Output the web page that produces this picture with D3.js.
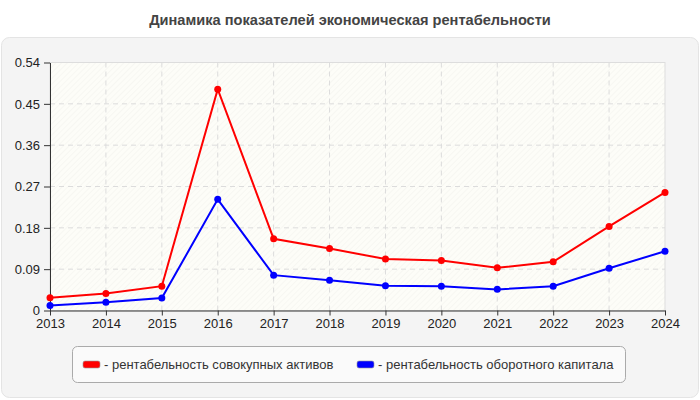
<!DOCTYPE html>
<html>
<head>
<meta charset="utf-8">
<script src="https://cdn.jsdelivr.net/npm/d3@7"></script>
<style>
body { margin: 0; background: #fff; }
svg { display: block; font-family: "Liberation Sans", Arial, sans-serif; }
</style>
</head>
<body>
<div id="chart-area"></div>
<script>
var years = [2013, 2014, 2015, 2016, 2017, 2018, 2019, 2020, 2021, 2022, 2023, 2024];
var assetsReturn = [0.028, 0.037, 0.053, 0.482, 0.156, 0.135, 0.112, 0.109, 0.093, 0.106, 0.183, 0.257];
var capitalReturn = [0.011, 0.018, 0.027, 0.242, 0.077, 0.066, 0.054, 0.053, 0.046, 0.053, 0.092, 0.129];
var yTicks = [0, 0.09, 0.18, 0.27, 0.36, 0.45, 0.54];
var seriesNames = ["рентабельность совокупных активов", "рентабельность оборотного капитала"];
var seriesColors = ["#ff0000", "#0000ff"];

var margin = {top: 62.5, left: 50, right: 35, bottom: 89.5};
var width = 700 - margin.left - margin.right;
var height = 400 - margin.top - margin.bottom;

var svg = d3.select("#chart-area").append("svg")
	.attr("width", 700)
	.attr("height", 400);

var defs = svg.append("defs");
var pat = defs.append("pattern")
	.attr("id", "hatch")
	.attr("patternUnits", "userSpaceOnUse")
	.attr("width", 4)
	.attr("height", 4)
	.attr("patternTransform", "rotate(45)");
pat.append("rect").attr("width", 4).attr("height", 4).attr("fill", "#fdfdf8");
pat.append("line").attr("x1", 0).attr("y1", 0).attr("x2", 0).attr("y2", 4)
	.attr("stroke", "#f3f3ef").attr("stroke-width", 1.2);

// title
svg.append("text")
	.attr("x", 350)
	.attr("y", 25)
	.attr("text-anchor", "middle")
	.attr("font-size", "14.6px")
	.attr("font-weight", "bold")
	.attr("fill", "#444")
	.text("Динамика показателей экономическая рентабельности");

// panel
svg.append("rect")
	.attr("x", 1.5).attr("y", 37.5)
	.attr("width", 697).attr("height", 360)
	.attr("rx", 8)
	.attr("fill", "#f4f4f4")
	.attr("stroke", "#e4e4e4");

var g = svg.append("g")
	.attr("transform", "translate(" + margin.left + ", " + margin.top + ")");

var x = d3.scaleLinear()
	.domain([years[0], years[years.length - 1]])
	.range([0, width]);

var y = d3.scaleLinear()
	.domain([0, 0.54])
	.range([height, 0]);

g.append("rect")
	.attr("width", width)
	.attr("height", height)
	.attr("fill", "url(#hatch)")
	.attr("stroke", "#dddddd");

// grid
g.selectAll(".hgrid").data(yTicks.slice(1, -1)).enter().append("line")
	.attr("x1", 0).attr("x2", width)
	.attr("y1", (d) => y(d)).attr("y2", (d) => y(d))
	.attr("stroke", "#dcdcdc")
	.attr("stroke-dasharray", "5,4");

g.selectAll(".vgrid").data(years.slice(1, -1)).enter().append("line")
	.attr("y1", 0).attr("y2", height)
	.attr("x1", (d) => x(d)).attr("x2", (d) => x(d))
	.attr("stroke", "#dcdcdc")
	.attr("stroke-dasharray", "5,4");

// axes
var bottomAxis = d3.axisBottom(x)
	.tickValues(years)
	.tickFormat(d3.format("d"))
	.tickSizeInner(5)
	.tickSizeOuter(0);
var xg = g.append("g")
	.attr("class", "bottom axis")
	.attr("transform", "translate(0, " + height + ")")
	.call(bottomAxis);
xg.selectAll("text").attr("font-size", "13px").attr("fill", "#222").attr("y", 8).attr("font-family", "'Liberation Sans', Arial, sans-serif");
xg.selectAll("line, path").attr("stroke", "#333");

var leftAxis = d3.axisLeft(y)
	.tickValues(yTicks)
	.tickFormat((d) => d === 0 ? "0" : d3.format(".2f")(d))
	.tickSizeInner(6)
	.tickSizeOuter(0);
var yg = g.append("g")
	.attr("class", "left axis")
	.call(leftAxis);
yg.selectAll("text").attr("font-size", "13px").attr("fill", "#222").attr("x", -10).attr("font-family", "'Liberation Sans', Arial, sans-serif");
yg.selectAll("line, path").attr("stroke", "#333");

// lines
var allSeries = [assetsReturn, capitalReturn];
var line = d3.line()
	.x((d, i) => x(years[i]))
	.y((d) => y(d));

allSeries.forEach((vals, k) => {
	g.append("path")
		.datum(vals)
		.attr("d", line)
		.attr("fill", "none")
		.attr("stroke", seriesColors[k])
		.attr("stroke-width", 2);
	g.selectAll(".dot" + k).data(vals).enter().append("circle")
		.attr("cx", (d, i) => x(years[i]))
		.attr("cy", (d) => y(d))
		.attr("r", 3.5)
		.attr("fill", seriesColors[k]);
});

// legend
svg.append("rect")
	.attr("x", 72.5).attr("y", 346.5)
	.attr("width", 553).attr("height", 36)
	.attr("rx", 5)
	.attr("fill", "#fafafa")
	.attr("stroke", "#aaaaaa");

var legendX = [83, 357];
seriesNames.forEach((name, k) => {
	svg.append("rect")
		.attr("x", legendX[k]).attr("y", 361)
		.attr("width", 17).attr("height", 7)
		.attr("rx", 2)
		.attr("fill", seriesColors[k])
		.attr("stroke", "#999")
		.attr("stroke-width", 0.6);
	svg.append("text")
		.attr("x", legendX[k] + 21)
		.attr("y", 369)
		.attr("font-size", "13px")
		.attr("fill", "#333")
		.text("- " + name);
});
</script>
</body>
</html>
